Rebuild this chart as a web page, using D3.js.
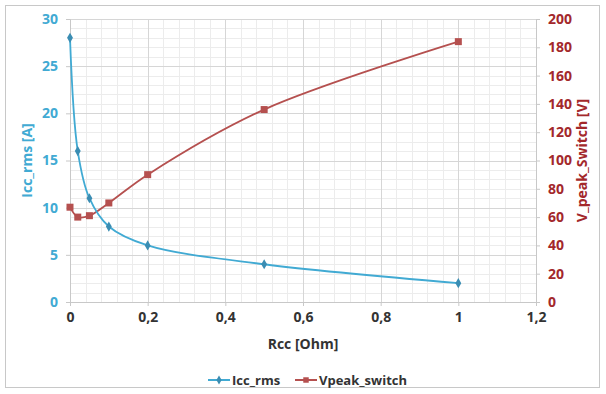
<!DOCTYPE html>
<html lang="en">
<head>
  <meta charset="utf-8">
  <title>Icc_rms / Vpeak_switch</title>
  <script src="https://d3js.org/d3.v7.min.js"></script>
  <style>
    body { margin: 0; background: #fff; }
    text { font-family: "Open Sans", "Liberation Sans", sans-serif; font-weight: bold; }
  </style>
</head>
<body>
<script type="text/javascript">
// data
var rcc = [0, 0.02, 0.05, 0.1, 0.2, 0.5, 1];
var iccRms = [28, 16, 11, 8, 6, 4, 2];
var vpeakSwitch = [67, 60, 61, 70, 90, 136, 184];
var xTicks = [0, 0.2, 0.4, 0.6, 0.8, 1, 1.2];
var leftTicks = [0, 5, 10, 15, 20, 25, 30];
var rightTicks = [0, 20, 40, 60, 80, 100, 120, 140, 160, 180, 200];

var W = 606, H = 394;
var margin = {top: 19, right: 70, bottom: 92, left: 70};
var plotW = W - margin.left - margin.right;
var plotH = H - margin.top - margin.bottom;

var cBlue = "#41aad3", cBlueMark = "#3a8db3", cRed = "#b5504f", cRedDark = "#a3282b";

var svg = d3.select("body").append("svg")
  .attr("width", W).attr("height", H);

// outer frame
svg.append("rect")
  .attr("x", 5.5).attr("y", 5.5)
  .attr("width", 594).attr("height", 382)
  .attr("fill", "#fff").attr("stroke", "#c8c8c8");

var x = d3.scaleLinear().domain([0, 1.2]).range([0, plotW]);
var yL = d3.scaleLinear().domain([0, 30]).range([plotH, 0]);
var yR = d3.scaleLinear().domain([0, 200]).range([plotH, 0]);

var g = svg.append("g")
  .attr("transform", "translate(" + margin.left + "," + margin.top + ")");

// minor grid
var minorX = d3.range(0, 1.2001, 0.04);
var minorY = d3.range(0, 30.001, 1);
g.selectAll(".mx").data(minorX).enter().append("line")
  .attr("x1", d => Math.round(x(d)) + 0.5).attr("x2", d => Math.round(x(d)) + 0.5)
  .attr("y1", 0).attr("y2", plotH).attr("stroke", "#ececec");
g.selectAll(".my").data(minorY).enter().append("line")
  .attr("y1", d => Math.round(yL(d)) + 0.5).attr("y2", d => Math.round(yL(d)) + 0.5)
  .attr("x1", 0).attr("x2", plotW).attr("stroke", "#ececec");
// major grid
g.selectAll(".gx").data(xTicks).enter().append("line")
  .attr("x1", d => Math.round(x(d)) + 0.5).attr("x2", d => Math.round(x(d)) + 0.5)
  .attr("y1", 0).attr("y2", plotH).attr("stroke", "#d6d6d6");
g.selectAll(".gy").data(leftTicks).enter().append("line")
  .attr("y1", d => Math.round(yL(d)) + 0.5).attr("y2", d => Math.round(yL(d)) + 0.5)
  .attr("x1", 0).attr("x2", plotW).attr("stroke", "#d6d6d6");

// axes
var xAxis = g.append("g")
  .attr("transform", "translate(0," + plotH + ")")
  .call(d3.axisBottom(x).tickValues(xTicks).tickSize(4).tickPadding(6)
    .tickFormat(d => d3.format("")(d).replace(".", ",")));
var lAxis = g.append("g")
  .call(d3.axisLeft(yL).tickValues(leftTicks).tickSize(4).tickPadding(8));
var rAxis = g.append("g")
  .attr("transform", "translate(" + plotW + ",0)")
  .call(d3.axisRight(yR).tickValues(rightTicks).tickSize(4).tickPadding(8));

[xAxis, lAxis, rAxis].forEach(function(a) {
  a.select(".domain").attr("stroke", "#c8c8c8");
  a.selectAll(".tick line").attr("stroke", "#c8c8c8");
  a.selectAll("text").style("font-size", "14px");
});
xAxis.selectAll("text").attr("fill", "#333");
lAxis.selectAll("text").attr("fill", cBlue);
rAxis.selectAll("text").attr("fill", cRedDark);

// lines (smoothed, like the spreadsheet's smooth line)
var lineIcc = d3.line()
  .x((d, i) => x(rcc[i])).y(d => yL(d))
  .curve(d3.curveCatmullRom.alpha(0.5));
var lineV = d3.line()
  .x((d, i) => x(rcc[i])).y(d => yR(d))
  .curve(d3.curveCatmullRom.alpha(0.5));

g.append("path").datum(vpeakSwitch)
  .attr("d", lineV).attr("fill", "none")
  .attr("stroke", cRed).attr("stroke-width", 1.8);
g.append("path").datum(iccRms)
  .attr("d", lineIcc).attr("fill", "none")
  .attr("stroke", cBlue).attr("stroke-width", 1.8);

g.selectAll(".mv").data(vpeakSwitch).enter().append("rect")
  .attr("x", (d, i) => x(rcc[i]) - 3.5).attr("y", d => yR(d) - 3.5)
  .attr("width", 7).attr("height", 7).attr("fill", cRed);
g.selectAll(".mi").data(iccRms).enter().append("path")
  .attr("transform", (d, i) => "translate(" + x(rcc[i]) + "," + yL(d) + ")")
  .attr("d", d3.symbol().type(d3.symbolDiamond).size(30))
  .attr("fill", cBlueMark);

// axis titles
svg.append("text")
  .attr("x", margin.left + plotW / 2).attr("y", 349)
  .attr("text-anchor", "middle").attr("fill", "#333")
  .style("font-size", "14px").text("Rcc [Ohm]");
svg.append("text")
  .attr("transform", "translate(32," + (margin.top + plotH / 2) + ") rotate(-90)")
  .attr("text-anchor", "middle").attr("fill", cBlue)
  .style("font-size", "14px").text("Icc_rms [A]");
svg.append("text")
  .attr("transform", "translate(587," + (margin.top + plotH / 2) + ") rotate(-90)")
  .attr("text-anchor", "middle").attr("fill", cRedDark)
  .style("font-size", "14px").text("V_peak_Switch [V]");

// legend
var legend = [
  {name: "Icc_rms", color: cBlue, mark: cBlueMark, sym: d3.symbolDiamond, x: 208},
  {name: "Vpeak_switch", color: cRed, mark: cRed, sym: d3.symbolSquare, x: 295}
];
var lg = svg.selectAll(".lg").data(legend).enter().append("g")
  .attr("transform", d => "translate(" + d.x + ",380)");
lg.append("line").attr("x1", 0).attr("x2", 22).attr("y1", 0).attr("y2", 0)
  .attr("stroke", d => d.color).attr("stroke-width", 2);
lg.append("path").attr("transform", "translate(11,0)")
  .attr("d", d => d3.symbol().type(d.sym).size(d.sym === d3.symbolSquare ? 30 : 24)())
  .attr("fill", d => d.mark);
lg.append("text").attr("x", 24).attr("y", 5)
  .attr("fill", "#333").style("font-size", "13px")
  .text(d => d.name);
</script>
</body>
</html>
